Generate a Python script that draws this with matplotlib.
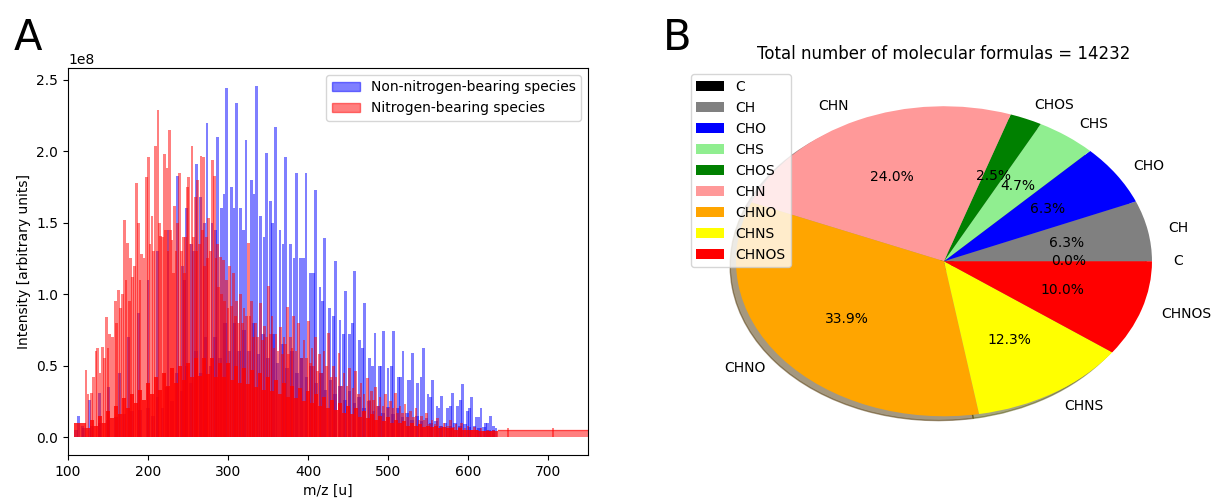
import matplotlib.pyplot as plt
from matplotlib.patches import Patch

# ---- Panel A: mass spectrum (peak positions m/z and heights in units of 1e8) ----
red_main_mz = [122.5, 129, 135, 137, 143, 148.4, 152, 158.9, 163, 166, 170.6, 174.7, 178, 181,
               185.2, 188, 192, 197.7, 200.6, 205, 209.4, 212.3, 216, 220.5, 223.6, 226.9, 230,
               233.5, 237, 239.5, 244, 247, 249.5, 251, 254.9, 259, 262, 266.2, 269.5, 273, 276,
               280.4, 283, 287, 290.4, 294, 298, 302, 307, 311, 315.5, 320, 325.9, 329, 334,
               340.5, 346, 351, 355, 360, 365.6, 370, 374, 378, 382, 388.5, 395, 401, 405, 409,
               414, 420, 426, 432, 438.6, 445, 452, 459.5, 466, 474, 479, 484, 490, 497, 503,
               509, 515, 521, 528, 535, 542, 548, 555, 562, 570, 578, 585, 592, 600, 608, 616,
               624, 632, 650, 706]
red_main_h = [0.47, 0.31, 0.60, 0.62, 0.63, 0.84, 0.72, 0.95, 1.03, 0.90, 1.52, 1.36, 1.25, 1.12,
              1.78, 1.50, 1.28, 1.82, 1.96, 1.55, 2.04, 2.29, 1.41, 1.98, 1.88, 2.15, 1.38,
              1.62, 1.50, 1.85, 1.40, 1.40, 1.75, 1.82, 2.04, 1.68, 1.80, 1.97, 1.96, 1.40, 1.53,
              1.94, 1.83, 1.35, 1.26, 1.24, 1.10, 1.20, 1.15, 0.95, 1.00, 0.90, 1.36, 0.95, 0.80,
              0.94, 0.78, 1.06, 0.85, 0.72, 0.77, 0.70, 0.91, 0.70, 0.85, 0.80, 0.68, 0.81, 0.62, 0.70,
              0.58, 0.60, 0.73, 0.50, 0.59, 0.45, 0.48, 0.46, 0.38, 0.41, 0.32, 0.35, 0.28, 0.30, 0.25,
              0.31, 0.22, 0.23, 0.18, 0.20, 0.15, 0.17, 0.12, 0.13, 0.10, 0.12, 0.09, 0.10, 0.08, 0.07, 0.06,
              0.05, 0.05, 0.06, 0.06]

red_sub_mz = [125, 132, 140, 145.5, 150, 155.5, 161, 168, 172.5, 176.5, 183, 190, 195, 202.5, 207,
              214, 218, 222, 225, 228.5, 231.5, 235, 241.5, 245.5, 252.5, 257, 260.5, 264, 268, 271,
              274.5, 278, 285, 288.5, 292, 296, 300, 304.5, 309, 313, 318, 323, 327.5, 331.5, 337,
              343, 348.5, 353, 357.5, 362.5, 368, 372, 376, 380, 385, 391.5, 398, 403, 407, 411.5,
              417, 423, 429, 435, 442, 448.5, 456, 463, 470, 476.5, 481.5, 487, 493.5, 500, 506,
              512, 518, 524.5, 531.5, 538.5, 545, 551.5, 558.5, 566, 574, 581.5, 588.5, 596, 604,
              612, 620, 628]
red_sub_h = [0.30, 0.42, 0.45, 0.55, 0.62, 0.70, 0.80, 1.00, 1.10, 0.95, 1.20, 1.10, 1.25, 1.35, 1.30,
             1.50, 1.40, 1.45, 1.30, 1.45, 1.15, 1.30, 1.30, 1.15, 1.35, 1.40, 1.30, 1.35, 1.45, 1.20,
             1.25, 1.30, 1.25, 1.05, 1.00, 0.95, 0.90, 0.92, 0.85, 0.80, 0.80, 0.85, 0.85, 0.70, 0.70,
             0.68, 0.70, 0.72, 0.62, 0.60, 0.58, 0.65, 0.58, 0.62, 0.60, 0.55, 0.55, 0.52, 0.50, 0.46,
             0.45, 0.50, 0.42, 0.42, 0.36, 0.36, 0.34, 0.30, 0.30, 0.26, 0.26, 0.22, 0.22, 0.20, 0.20,
             0.17, 0.17, 0.14, 0.14, 0.12, 0.12, 0.09, 0.09, 0.08, 0.08, 0.07, 0.07, 0.06, 0.05,
             0.05, 0.04, 0.04]

# dense low-level nitrogen-bearing signal (5 u bins)
red_floor_mz = [110, 115, 120, 125, 130, 135, 140, 145, 150, 155, 160, 165, 170, 175, 180, 185, 190,
                195, 200, 205, 210, 215, 220, 225, 230, 235, 240, 245, 250, 255, 260, 265, 270, 275,
                280, 285, 290, 295, 300, 305, 310, 315, 320, 325, 330, 335, 340, 345, 350, 355, 360,
                365, 370, 375, 380, 385, 390, 395, 400, 405, 410, 415, 420, 425, 430, 435, 440, 445,
                450, 455, 460, 465, 470, 475, 480, 485, 490, 495, 500, 505, 510, 515, 520, 525, 530,
                535, 540, 545, 550, 555, 560, 565, 570, 575, 580, 585, 590, 595, 600, 605, 610, 615,
                620, 625, 630, 635]
red_floor_h = [0.10, 0.10, 0.10, 0.06, 0.12, 0.08, 0.15, 0.10, 0.18, 0.13, 0.22, 0.16, 0.27, 0.20,
               0.30, 0.24, 0.33, 0.26, 0.38, 0.30, 0.42, 0.33, 0.45, 0.36, 0.48, 0.38, 0.50, 0.40,
               0.52, 0.42, 0.55, 0.43, 0.55, 0.44, 0.55, 0.42, 0.52, 0.42, 0.52, 0.40, 0.50, 0.38,
               0.48, 0.37, 0.47, 0.35, 0.45, 0.33, 0.42, 0.32, 0.40, 0.30, 0.38, 0.28, 0.36, 0.27,
               0.34, 0.25, 0.32, 0.24, 0.30, 0.22, 0.28, 0.20, 0.26, 0.19, 0.24, 0.17, 0.22, 0.16,
               0.20, 0.14, 0.18, 0.13, 0.16, 0.12, 0.15, 0.11, 0.14, 0.10, 0.12, 0.10, 0.11, 0.08,
               0.10, 0.08, 0.09, 0.07, 0.08, 0.07, 0.08, 0.06, 0.07, 0.06, 0.06, 0.05, 0.06, 0.05,
               0.05, 0.05, 0.05, 0.04, 0.04, 0.04, 0.04, 0.04]
red_tail_mz = [637, 750]
red_tail_h = [0.05, 0.05]

blue_main_mz = [113, 118, 126.7, 139, 151, 164, 176, 188, 200, 212, 225, 237, 248.5, 260.3, 273.7,
                287, 298, 310.4, 322.6, 335.5, 348, 359.3, 371.8, 385.6, 397.3, 409.4, 421, 434.5,
                447, 458.3, 470.8, 483.7, 494.2, 507.1, 518.8, 530.5, 544.3, 555.6, 566.8, 580.6,
                593.1, 604.4, 616, 627.7, 635]
blue_main_h = [0.15, 0.08, 0.26, 0.31, 0.35, 0.45, 0.70, 0.87, 1.10, 1.30, 1.45, 1.83, 1.60, 1.91, 2.20,
               2.10, 2.44, 2.34, 2.08, 2.46, 1.99, 2.17, 1.96, 1.85, 1.85, 1.73, 1.39, 1.23,
               1.02, 1.16, 0.94, 0.73, 0.74, 0.74, 0.60, 0.59, 0.62, 0.40, 0.29, 0.31,
               0.37, 0.28, 0.20, 0.15, 0.06]

blue_sub_mz = [243, 254, 266, 280, 292, 304, 316, 329, 341, 353, 365, 378, 391, 403, 415, 427, 440,
               452, 464, 477, 489, 500, 513, 525, 537, 550, 561, 574, 587, 599, 610, 622, 632]
blue_sub_h = [1.20, 1.35, 1.68, 1.50, 1.60, 1.75, 1.60, 1.80, 1.55, 1.65, 1.45, 1.35, 1.25, 1.15, 1.05,
              0.90, 0.82, 0.72, 0.68, 0.55, 0.50, 0.48, 0.42, 0.40, 0.38, 0.30, 0.22, 0.20, 0.22,
              0.18, 0.14, 0.10, 0.08]

blue_third_mz = [245.5, 257, 270.5, 284, 295, 307.5, 319.5, 332.5, 345, 356, 368.8, 382.5, 394.3,
                 406.4, 418, 431.5, 444, 455.3, 467.8, 480.7, 491.2, 504.1, 515.8, 527.5, 541.3,
                 552.6, 563.8, 577.6, 590.1, 601.4, 613, 624.7]
blue_third_h = [1.10, 1.30, 1.50, 1.45, 1.70, 1.60, 1.45, 1.70, 1.40, 1.50, 1.35, 1.25, 1.25,
                1.15, 0.95, 0.85, 0.72, 0.80, 0.62, 0.50, 0.50, 0.50, 0.42, 0.40, 0.42,
                0.28, 0.20, 0.22, 0.26, 0.20, 0.14, 0.10]

# low-level non-nitrogen signal (6 u bins)
blue_floor_mz = [110, 120, 130, 140, 150, 160, 170, 180, 190, 200, 206, 212, 218, 224, 230, 236, 242,
                 248, 254, 260, 266, 272, 278, 284, 290, 296, 302, 308, 314, 320, 326, 332, 338, 344,
                 350, 356, 362, 368, 374, 380, 386, 392, 398, 404, 410, 416, 422, 428, 434, 440, 446,
                 452, 458, 464, 470, 476, 482, 488, 494, 500, 506, 512, 518, 524, 530, 536, 542, 548,
                 554, 560, 566, 572, 578, 584, 590, 596, 602, 608, 614, 620, 626, 632]
blue_floor_h = [0.05, 0.06, 0.08, 0.10, 0.12, 0.14, 0.16, 0.18, 0.19, 0.20, 0.15, 0.28, 0.20, 0.35,
                0.25, 0.45, 0.32, 0.50, 0.38, 0.60, 0.45, 0.70, 0.50, 0.70, 0.55, 0.80, 0.60, 0.80,
                0.60, 0.75, 0.60, 0.80, 0.58, 0.72, 0.55, 0.72, 0.52, 0.65, 0.48, 0.60, 0.45, 0.55,
                0.42, 0.50, 0.38, 0.45, 0.33, 0.40, 0.30, 0.36, 0.26, 0.32, 0.24, 0.28, 0.20, 0.25,
                0.18, 0.22, 0.17, 0.21, 0.16, 0.20, 0.14, 0.17, 0.12, 0.15, 0.11, 0.13, 0.10, 0.11,
                0.08, 0.10, 0.08, 0.10, 0.08, 0.09, 0.07, 0.08, 0.06, 0.07, 0.05, 0.05]

# ---- Panel B: pie of molecular formula classes ----
classes = ['C', 'CH', 'CHO', 'CHS', 'CHOS', 'CHN', 'CHNO', 'CHNS', 'CHNOS']
percent = [0.0, 6.3, 6.3, 4.7, 2.5, 24.0, 33.9, 12.3, 10.0]
pie_colors = ['black', 'gray', 'blue', 'lightgreen', 'green', '#ff9999', 'orange', 'yellow', 'red']
total_formulas = 14232

plt.rcParams['font.size'] = 10
fig = plt.figure(figsize=(12.11, 5.01), dpi=100)

# Panel A
ax1 = fig.add_axes([0.0562, 0.0918, 0.4294, 0.7725])
s = 1e8
ax1.bar(blue_floor_mz, [h * s for h in blue_floor_h], width=4.5, color='blue', alpha=0.5, linewidth=0)
ax1.bar(blue_third_mz, [h * s for h in blue_third_h], width=3.4, color='blue', alpha=0.5, linewidth=0)
ax1.bar(blue_sub_mz, [h * s for h in blue_sub_h], width=3.4, color='blue', alpha=0.5, linewidth=0)
ax1.bar(blue_main_mz, [h * s for h in blue_main_h], width=3.4, color='blue', alpha=0.5, linewidth=0)
ax1.bar(red_floor_mz, [h * s for h in red_floor_h], width=5.0, color='red', alpha=0.8, linewidth=0)
ax1.fill_between(red_tail_mz, [h * s for h in red_tail_h], color='red', alpha=0.5, linewidth=0)
ax1.plot(red_tail_mz, [h * s for h in red_tail_h], color='red', alpha=0.5, linewidth=1)
ax1.bar(red_sub_mz, [h * s for h in red_sub_h], width=3.4, color='red', alpha=0.5, linewidth=0)
ax1.bar(red_main_mz, [h * s for h in red_main_h], width=3.4, color='red', alpha=0.5, linewidth=0)
ax1.set_xlim(100, 750)
ax1.set_ylim(-0.126e8, 2.583e8)
ax1.set_xlabel('m/z [u]')
ax1.set_ylabel('Intensity [arbitrary units]')
handles = [Patch(facecolor='blue', edgecolor='blue', alpha=0.5),
           Patch(facecolor='red', edgecolor='red', alpha=0.5)]
ax1.legend(handles, ['Non-nitrogen-bearing species', 'Nitrogen-bearing species'], loc='upper right')

# Panel B
ax2 = fig.add_axes([0.5648, 0.0918, 0.4294, 0.7735])
ax2.pie(percent, labels=classes, colors=pie_colors, autopct='%1.1f%%', shadow=True, startangle=0)
ax2.set_aspect('auto')
ax2.set_xlim(-1.25, 1.25)
ax2.set_ylim(-1.25, 1.25)
ax2.set_title('Total number of molecular formulas = %d' % total_formulas, fontsize=12)
ax2.legend(classes, loc='upper left')

fig.text(0.011, 0.90, 'A', fontsize=30)
fig.text(0.547, 0.90, 'B', fontsize=30)

plt.savefig('out.png', dpi=100)
